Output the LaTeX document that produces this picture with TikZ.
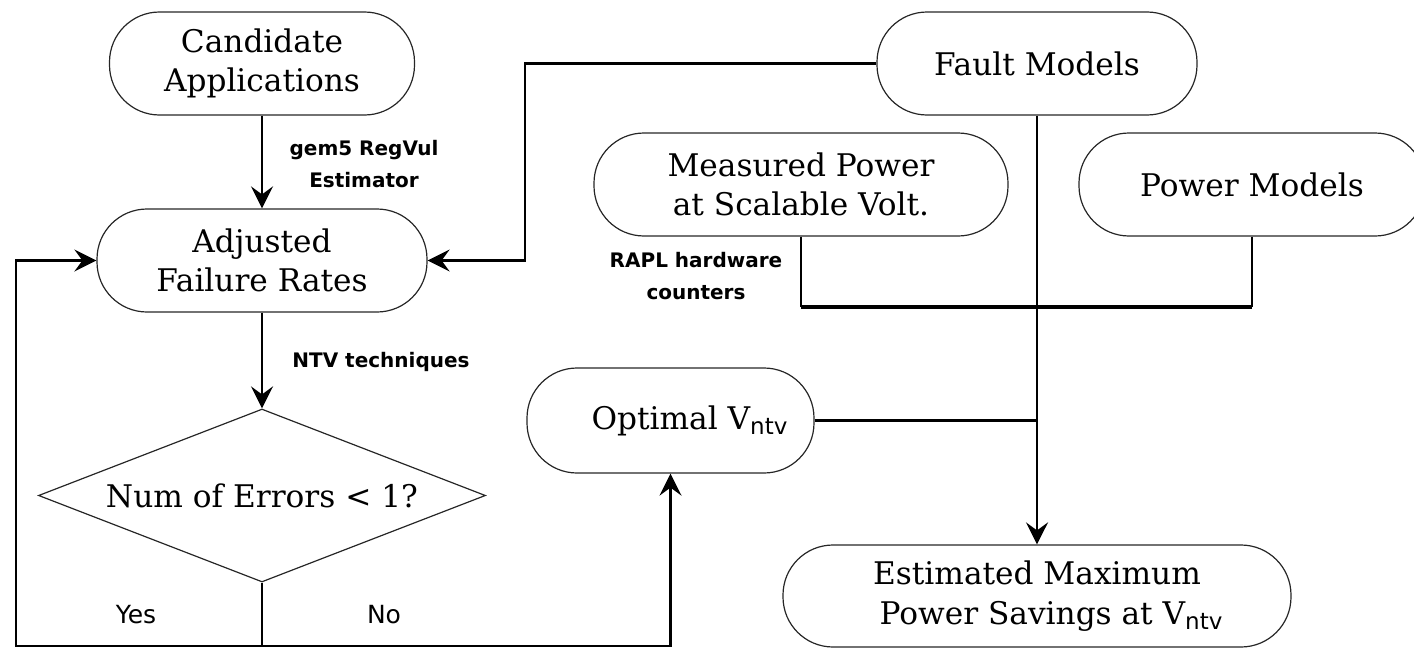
\documentclass[tikz,border=0pt]{standalone}
\usepackage{fontspec}
\setmainfont{DejaVu Serif}
\setsansfont{DejaVu Sans}
\newfontfamily\lblfont{DejaVu Sans}
\usetikzlibrary{arrows.meta,shapes.geometric}
\newcommand{\mainsz}{\fontsize{15.6}{19.8}\selectfont}
\newcommand{\subntv}{\raisebox{-0.35ex}{\sffamily\fontsize{11.5}{12}\selectfont ntv}}
\begin{document}
\begin{tikzpicture}[x=0.5pt,y=-0.5pt,
  box/.style={draw=black!85, line width=0.6pt, rounded corners=25pt, align=center, inner sep=0pt, font=\mainsz},
  dia/.style={diamond, draw=black!85, line width=0.6pt, aspect=2.58, minimum width=223.5pt, minimum height=86.5pt, inner sep=0pt, font=\mainsz},
  conn/.style={line width=1.2pt},
  bus/.style={line width=1.8pt},
  arr/.style={conn, -{Stealth[length=11pt,width=11pt,inset=4pt]}},
  lbl/.style={font=\lblfont\bfseries\fontsize{10}{16}\selectfont, align=center},
  yn/.style={font=\sffamily\fontsize{12.5}{14}\selectfont}
]
\useasboundingbox (0,0) rectangle (1414,648);

% nodes
\node[box, minimum width=152.5pt, minimum height=51.5pt] (cand) at (262,63.5) {Candidate\\Applications};
\node[box, minimum width=165pt, minimum height=51.5pt] (adj) at (262,260.5) {Adjusted\\Failure Rates};
\node[dia] (dia) at (262,495.5) {Num of Errors < 1?};
\node[box, minimum width=160pt, minimum height=51.5pt] (fault) at (1037,63.5) {Fault Models};
\node[box, minimum width=207pt, minimum height=51.5pt] (meas) at (801,184.5) {Measured Power\\at Scalable Volt.};
\node[box, minimum width=173pt, minimum height=51.5pt] (pow) at (1252,184.5) {Power Models};
\node[box, minimum width=143.5pt, minimum height=52.5pt] (opt) at (670.5,420.5) {\hspace*{19pt}Optimal V\subntv};
\node[box, minimum width=254pt, minimum height=51pt] (est) at (1037,596) {Estimated Maximum\\\hspace*{14pt}Power Savings at V\subntv};

% labels
\node[lbl] (l1) at (364,164) {gem5 RegVul\\Estimator};
\node[lbl] (l2) at (381,362) {NTV techniques};
\node[lbl] (l3) at (696,276) {RAPL hardware\\counters};
\node[yn] (yes) at (136,615) {Yes};
\node[yn] (no) at (384,615) {No};

% coordinates
\coordinate (split) at (262,646);
\coordinate (loopc) at (16,646);
\coordinate (fc) at (525,63.5);
\coordinate (busL) at (801,307);
\coordinate (busR) at (1252,307);
\coordinate (optj) at (1037,420.5);

% connectors
\draw[arr] (cand.south) -- (adj.north);
\draw[arr] (adj.south) -- (dia.north);
\draw[conn] (dia.south) -- (split);
\draw[arr] (split) -- (loopc) |- (adj.west);
\draw[arr] (split) -| (opt.south);
\draw[arr] (fault.west) -- (fc) |- (adj.east);
\draw[arr] (fault.south) -- (est.north);
\draw[conn] (meas.south) -- (busL);
\draw[conn] (pow.south) -- (busR);
\draw[bus] (busL) -- (busR);
\draw[conn] (opt.east) -- (optj);
\end{tikzpicture}
\end{document}
